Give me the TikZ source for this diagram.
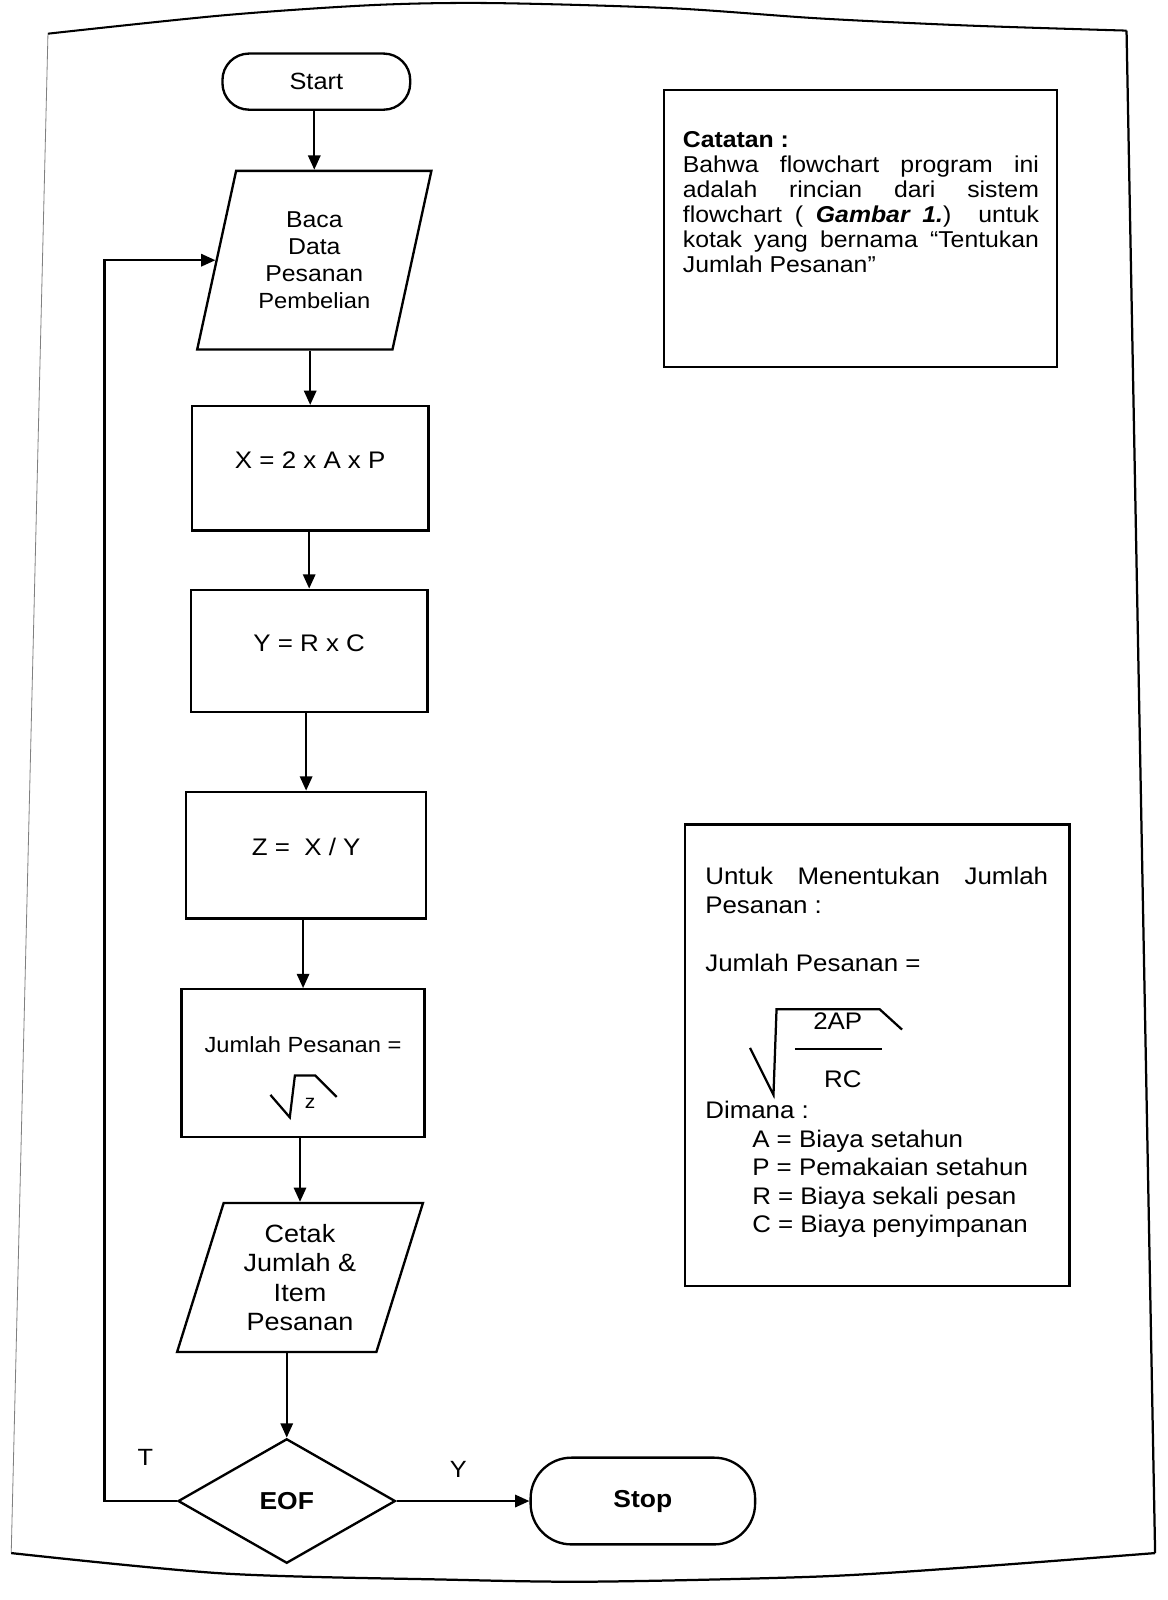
\documentclass[tikz,border=0pt]{standalone}
\usepackage{fontspec}
\setmainfont{Liberation Sans}[FakeStretch=1.08]
\usetikzlibrary{positioning,shapes.geometric,arrows.meta}
\newcommand{\tinta}{black}
\newcommand{\ukuran}[2]{\fontsize{#1}{#2}\selectfont}
\newcommand{\naik}[1]{\raisebox{0pt}[0pt][0pt]{#1}}
\tikzset{
  garis/.style={draw=\tinta, line width=2.3pt},
  proses/.style={garis, rectangle, inner sep=0pt, align=center, font=\ukuran{23.5}{27}},
  io/.style={garis, trapezium, trapezium left angle=74, trapezium right angle=106,
    trapezium stretches=true, inner sep=0pt, align=center, font=\ukuran{22.5}{26.5}},
  terminal/.style={garis, rectangle, rounded corners=26pt, inner sep=0pt, font=\ukuran{23}{26}},
  keputusan/.style={garis, diamond, minimum width=213pt, minimum height=122pt,
    inner sep=0pt, font=\ukuran{24}{26}\bfseries},
  kotak/.style={draw=\tinta, line width=2.2pt, rectangle, inner sep=0pt},
  isian/.style={inner sep=0pt, align=justify, font=\ukuran{22.5}{24.5}},
  lbl/.style={inner sep=0pt, font=\ukuran{23}{26}},
  panah/.style={draw=\tinta, line width=2.3pt, -{Triangle[length=14pt,width=12pt]}},
  akar/.style={draw=\tinta, line width=2.2pt, line join=miter}
}
\begin{document}
\begin{tikzpicture}[x=1pt,y=-1pt]
  \fill[white] (0,0) rectangle (1144,1568);
  \useasboundingbox (0,0) rectangle (1144,1568);
  % bingkai halaman
  \draw[gray, line width=0.8pt] (47,33) -- (11,1522);
  \draw[line width=2pt] plot[smooth] coordinates {(47,33) (219,15) (365,5) (481,3) (657,8) (802,18) (948,25) (1104,30)};
  \draw[line width=2.2pt] (1104,30) -- (1132,1522);
  \draw[line width=2.2pt] plot[smooth] coordinates {(11,1522) (219,1542) (437,1548) (583,1550) (802,1545) (948,1536) (1132,1522)};

  % flowchart
  \node[terminal, minimum width=184pt, minimum height=55pt] (start) at (310,80) {Start};
  \node[io, minimum width=230pt, minimum height=175pt] (baca) at (308,255)
    {Baca\\Data\\Pesanan\\{\ukuran{21.5}{26}Pembelian}};
  \node[proses, minimum width=232pt, minimum height=122pt] (hitx) at (304,459) {\naik{X = 2 x A x P}};
  \node[proses, minimum width=232pt, minimum height=120pt] (hity) at (303,638) {\naik{Y = R x C}};
  \node[proses, minimum width=235pt, minimum height=124pt] (hitz) at (300,838) {\naik{Z =\ \ X / Y}};
  \node[proses, minimum width=238pt, minimum height=145pt] (jml) at (297,1042) {};
  \node[lbl, font=\ukuran{21.5}{24}] (jmlteks) at (297,1024) {Jumlah Pesanan =};
  \draw[akar] (265,1073) -- (284,1095) -- (289,1054) -- (309,1054) -- (330,1075);
  \node[lbl, font=\ukuran{19}{22}] (zet) at (304,1081) {z};
  \node[io, trapezium left angle=72, trapezium right angle=108, minimum width=241pt,
    minimum height=146pt, font=\ukuran{24.5}{28.5}] (cetak) at (294,1252) {Cetak\\Jumlah \&\\Item\\Pesanan};
  \node[keputusan] (eof) at (281,1471) {EOF};
  \node[terminal, rounded corners=40pt, minimum width=220pt, minimum height=85pt,
    font=\ukuran{24}{26}\bfseries] (stop) at (630,1471) {Stop};

  \foreach \a/\b in {start/baca, baca/hitx, hitx/hity, hity/hitz, hitz/jml, jml/cetak, cetak/eof}
    \draw[panah] (\b.north |- \a.south) -- (\b.north);
  \draw[panah] (eof.east) -- (stop.west);
  \draw[panah] (eof.west) -- ++(-71,0) |- (baca);
  \node[lbl, above left=35pt and 23pt of eof.west] (lblT) {T};
  \node[lbl, above right=23pt and 52pt of eof.east] (lblY) {Y};

  % catatan
  \node[kotak, minimum width=385pt, minimum height=272pt] (catatan) at (843.5,224) {};
  \node[isian, text width=349pt, anchor=north west] (catisi) at (669,129)
    {\textbf{Catatan :}\\
     Bahwa flowchart program ini\linebreak
     adalah rincian dari sistem\linebreak
     flowchart ( \textbf{\textit{Gambar 1.}}) untuk\linebreak
     kotak yang bernama “Tentukan\linebreak
     Jumlah Pesanan”};

  % rumus jumlah pesanan
  \node[kotak, minimum width=377pt, minimum height=452pt] (rumus) at (859.5,1034) {};
  \node[isian, font=\ukuran{23.5}{28}, text width=336pt, anchor=north west] (rumusjudul) at (691,850)
    {Untuk Menentukan Jumlah\linebreak Pesanan :};
  \node[lbl, font=\ukuran{23.5}{28}, anchor=base west] (rumusjp) at (691,952) {Jumlah Pesanan =};
  \draw[akar] (735,1027) -- (758,1073) -- (761,989) -- (862,989) -- (884,1009);
  \draw[line width=1.8pt] (779,1028) -- (864,1028);
  \node[lbl, font=\ukuran{23.5}{28}] (pembilang) at (821,1001) {2AP};
  \node[lbl, font=\ukuran{23.5}{28}] (penyebut) at (826,1058) {RC};
  \node[lbl, font=\ukuran{23.5}{28}, align=left, anchor=north west] (dimana) at (691,1079)
    {Dimana :\\
     \hspace*{46pt}A = Biaya setahun\\
     \hspace*{46pt}P = Pemakaian setahun\\
     \hspace*{46pt}R = Biaya sekali pesan\\
     \hspace*{46pt}C = Biaya penyimpanan};
\end{tikzpicture}
\end{document}
